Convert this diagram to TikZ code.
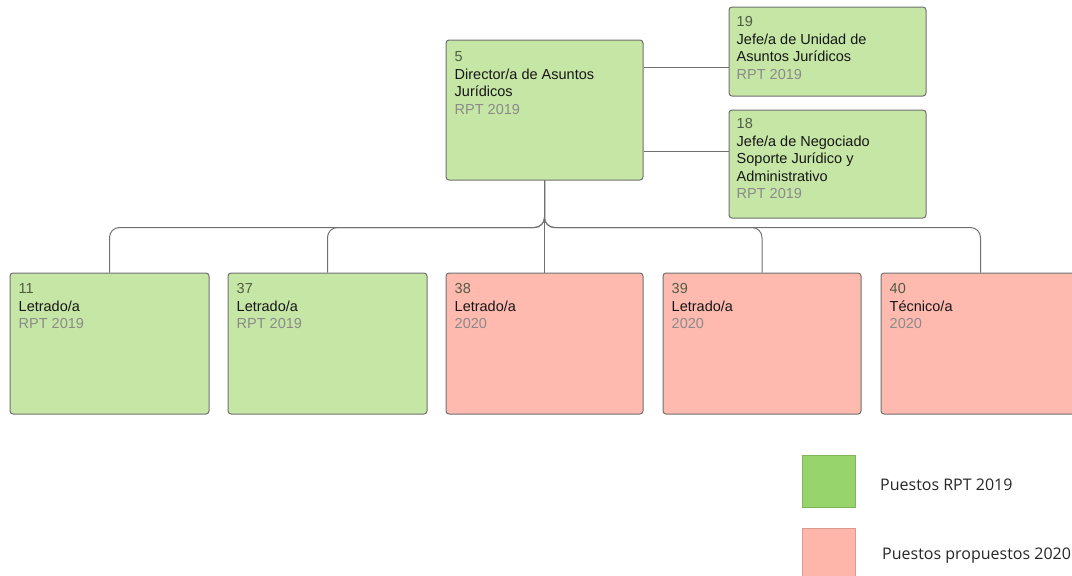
\documentclass[tikz,border=0pt]{standalone}
\usepackage{fontspec}
\setmainfont{Liberation Sans}
\newfontfamily\legfont{Open Sans}
\usetikzlibrary{calc}
\definecolor{boxgreen}{HTML}{C6E6A6}
\definecolor{boxpink}{HTML}{FFBAB0}
\definecolor{leggreen}{HTML}{97D56C}
\definecolor{legpink}{HTML}{FFB6AA}
\definecolor{edgegray}{HTML}{707070}
\definecolor{numcol}{HTML}{4F5C45}
\definecolor{subcol}{HTML}{8A8A8A}
\definecolor{titlecol}{HTML}{161616}
\tikzset{
  x=1pt, y=-1pt,
  posbox/.style={draw=edgegray, line width=1pt, rounded corners=3pt, minimum width=197pt, inner sep=0pt},
  green/.style={posbox, fill=boxgreen},
  pink/.style={posbox, fill=boxpink},
  boxtext/.style={anchor=north west, align=left, inner sep=0pt, font=\fontsize{14.5}{17.5}\selectfont, text=titlecol},
  conn/.style={draw=edgegray, line width=1pt, rounded corners=10pt},
  legsq/.style={minimum width=53pt, minimum height=52pt, inner sep=0pt, draw=#1!85!black, line width=0.6pt, fill=#1},
  legtext/.style={anchor=west, inner sep=0pt, font=\legfont\fontsize{16}{19}\selectfont, text=black!85}
}
\newcommand{\num}[1]{\textcolor{numcol}{#1}}
\newcommand{\sub}[1]{\textcolor{subcol}{#1}}
\begin{document}
\begin{tikzpicture}
\useasboundingbox (0,0) rectangle (1072,576);
% boxes
\node[green, minimum height=140pt] (dir) at (544.5,110) {};
\node[green, minimum height=89pt] (j19) at (827.5,51.5) {};
\node[green, minimum height=108pt] (j18) at (827.5,164) {};
\node[green, minimum width=199pt, minimum height=141pt] (b11) at (109.5,343.5) {};
\node[green, minimum width=199pt, minimum height=141pt] (b37) at (327.5,343.5) {};
\node[pink, minimum height=141pt] (b38) at (544.5,343.5) {};
\node[pink, minimum width=198pt, minimum height=141pt] (b39) at (762,343.5) {};
\node[pink, minimum width=199pt, minimum height=141pt] (b40) at (980.5,343.5) {};
% texts
\node[boxtext] (tdir) at ($(dir.north west)+(9,12)$) {\num{5}\\Director/a de Asuntos\\Jurídicos\\\sub{RPT 2019}};
\node[boxtext] (tj19) at ($(j19.north west)+(8,10)$) {\num{19}\\Jefe/a de Unidad de\\Asuntos Jurídicos\\\sub{RPT 2019}};
\node[boxtext] (tj18) at ($(j18.north west)+(8,9)$) {\num{18}\\Jefe/a de Negociado\\Soporte Jurídico y\\Administrativo\\\sub{RPT 2019}};
\node[boxtext] (t11) at ($(b11.north west)+(9,11)$) {\num{11}\\Letrado/a\\\sub{RPT 2019}};
\node[boxtext] (t37) at ($(b37.north west)+(9,11)$) {\num{37}\\Letrado/a\\\sub{RPT 2019}};
\node[boxtext] (t38) at ($(b38.north west)+(9,11)$) {\num{38}\\Letrado/a\\\sub{2020}};
\node[boxtext] (t39) at ($(b39.north west)+(9,11)$) {\num{39}\\Letrado/a\\\sub{2020}};
\node[boxtext] (t40) at ($(b40.north west)+(9,11)$) {\num{40}\\Técnico/a\\\sub{2020}};
% connectors
\draw[conn] ($(dir.north east)+(0,28)$) -- ($(j19.north west)+(0,61)$);
\draw[conn] ($(dir.north east)+(0,112)$) -- ($(j18.north west)+(0,42)$);
\draw[conn] (dir.south) -- ++(0,47) -| (b11.north);
\draw[conn] (dir.south) -- ++(0,47) -| (b37.north);
\draw[conn] (dir.south) -- (b38.north);
\draw[conn] (dir.south) -- ++(0,47) -| (b39.north);
\draw[conn] (dir.south) -- ++(0,47) -| (b40.north);
% legend
\node[legsq=leggreen] (lg1) at (828.5,481) {};
\node[legsq=legpink] (lg2) at (828.5,554) {};
\node[legtext] (lt1) at (880,485) {Puestos RPT 2019};
\node[legtext] (lt2) at (882,556) {Puestos propuestos 2020};
\end{tikzpicture}
\end{document}
